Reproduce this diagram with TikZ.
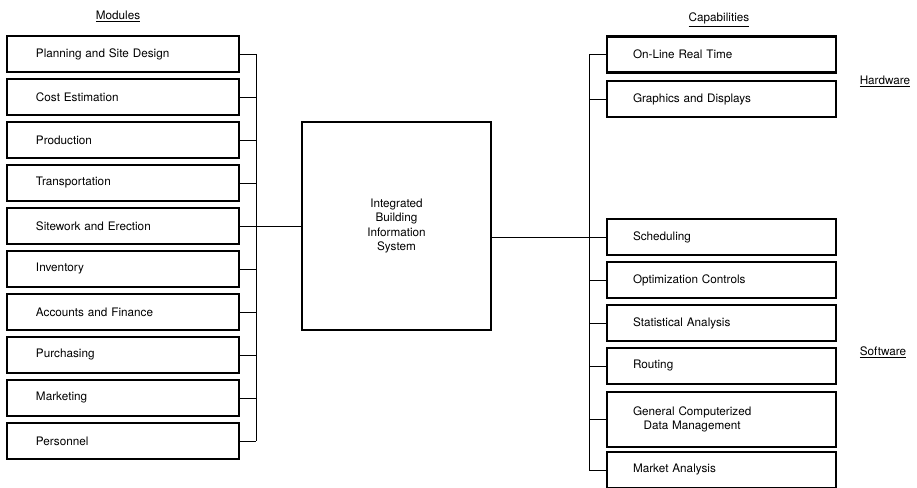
\documentclass[tikz,border=0pt]{standalone}
\usepackage{fontspec}
\setmainfont{TeX Gyre Heros}
\begin{document}
\begin{tikzpicture}[x=0.03cm, y=-0.03cm, font=\fontsize{10}{12}\selectfont,
    modbox/.style={draw, line width=2.4pt, minimum height=1.08cm, text width=5.22cm,
      inner xsep=0.87cm, align=left},
    capbox/.style={draw, line width=2.4pt, minimum height=1.08cm, text width=5.31cm,
      inner xsep=0.78cm, align=left},
    link/.style={line width=0.7pt}]
  \useasboundingbox (0,0) rectangle (917,488);
  % basliklar
  \node (modhead) at (118,16) {\underline{Modules}};
  \node (caphead) at (719,20) {\underline{Capabilities}};
  \node (hwhead) at (885,81) {\underline{Hardware}};
  \node (swhead) at (883,352) {\underline{Software}};
  % moduller (sol sutun)
  \foreach \i/\txt in {1/Planning and Site Design, 2/Cost Estimation, 3/Production,
      4/Transportation, 5/Sitework and Erection, 6/Inventory, 7/Accounts and Finance,
      8/Purchasing, 9/Marketing, 10/Personnel}
    \node[modbox] (m\i) at (123,{54+43*(\i-1)}) {\txt};
  % merkez kutu
  \node[draw, line width=2.4pt, minimum width=5.67cm, minimum height=6.24cm, align=center]
    (ibis) at (396.5,226) {Integrated\\Building\\Information\\System};
  % yetenekler (sag sutun)
  \foreach \i/\yy/\txt in {1/54.5/On-Line Real Time, 2/99/Graphics and Displays,
      3/237/Scheduling, 4/280/Optimization Controls, 5/323/Statistical Analysis,
      6/366/Routing, 8/470/Market Analysis}
    \node[capbox] (c\i) at (721.5,\yy) {\txt};
  \node[capbox, minimum height=1.65cm] (c7) at (721.5,419.5)
    {General Computerized\\\hspace*{0.9em}Data Management};
  % baglantilar
  \coordinate (lspine) at (256,0);
  \coordinate (rspine) at (589,0);
  \foreach \i in {1,...,10}
    \draw[link] (m\i.east) -- (m\i.east -| lspine);
  \draw[link] (m1.east -| lspine) -- (m10.east -| lspine);
  \draw[link] (m5.east) -- (ibis.west |- m5.east);
  \foreach \i in {1,...,8}
    \draw[link] (c\i.west) -- (c\i.west -| rspine);
  \draw[link] (c1.west -| rspine) -- (c8.west -| rspine);
  \draw[link] (ibis.east |- c3.west) -- (c3.west);
\end{tikzpicture}
\end{document}
